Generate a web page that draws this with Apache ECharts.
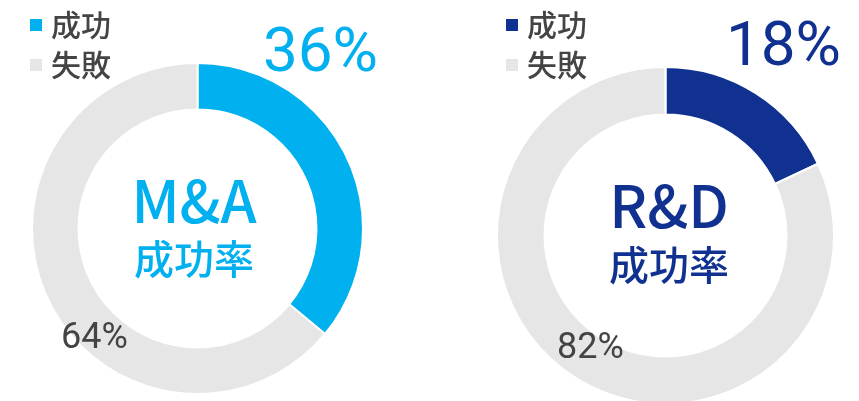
<!DOCTYPE html>
<html>
<head>
<meta charset="utf-8">
<script src="https://cdn.jsdelivr.net/npm/echarts@6/dist/echarts.min.js"></script>
<style>
  html, body { margin: 0; padding: 0; background: #fff; }
</style>
</head>
<body>
<div id="main" style="width:859px;height:401px"></div>
<script>
// 凡例の項目
const categories = ['成功', '失敗']
// M&A 成功率 / 失敗率 (%)
const maValues = [36, 64]
// R&D 成功率 / 失敗率 (%)
const rdValues = [18, 82]
const titles = ['M&A', 'R&D']

const maColors = ['#00b0ef', '#e6e6e6']
const rdColors = ['#10318f', '#e6e6e6']
const textGrey = '#444444'
const cjk = '"Noto Sans CJK JP", "Noto Sans", sans-serif'
const num = 'Roboto, "Noto Sans", sans-serif'

function pieData (values, colors) {
  return categories.map((name, i) => ({
    name: name,
    value: values[i],
    itemStyle: { color: colors[i] }
  }))
}

function legendOf (left, colors) {
  return {
    orient: 'vertical',
    left: left,
    top: 4,
    icon: 'rect',
    itemWidth: 14,
    itemHeight: 14,
    itemGap: 8,
    selectedMode: false,
    textStyle: {
      color: textGrey,
      fontSize: 30,
      fontWeight: 500,
      fontFamily: cjk,
      lineHeight: 32,
      padding: [0, 0, 0, 3]
    },
    data: categories.map((name, i) => ({ name: name, itemStyle: { color: colors[i] } }))
  }
}

const myChart = echarts.init(document.getElementById('main'))
const option = {
  animation: false,
  legend: [legendOf(23, maColors), legendOf(499, rdColors)],
  series: [
    {
      type: 'pie',
      center: [197.5, 228.5],
      radius: [119, 165.5],
      startAngle: 90,
      silent: true,
      label: { show: false },
      itemStyle: { borderColor: '#fff', borderWidth: 2 },
      data: pieData(maValues, maColors)
    },
    {
      type: 'pie',
      center: [665.5, 235.5],
      radius: [121, 168.5],
      startAngle: 90,
      silent: true,
      label: { show: false },
      itemStyle: { borderColor: '#fff', borderWidth: 2 },
      data: pieData(rdValues, rdColors)
    }
  ],
  graphic: [
    // 成功の割合 (大きい数字)
    { type: 'text', z: 100, right: 859 - 378, top: 24, style: { text: maValues[0] + '%', fill: maColors[0], font: '400 62px ' + num } },
    { type: 'text', z: 100, right: 859 - 841, top: 18, style: { text: rdValues[0] + '%', fill: rdColors[0], font: '400 62px ' + num } },
    // 失敗の割合
    { type: 'text', z: 100, left: 61, top: 321, style: { text: maValues[1] + '%', fill: textGrey, font: '400 36px ' + num } },
    { type: 'text', z: 100, left: 557, top: 331, style: { text: rdValues[1] + '%', fill: textGrey, font: '400 36px ' + num } },
    // 中央のタイトル
    { type: 'text', z: 100, x: 194, y: 201, style: { text: titles[0], fill: maColors[0], font: '500 58px ' + cjk, align: 'center', verticalAlign: 'middle' } },
    { type: 'text', z: 100, x: 194, y: 259, style: { text: '成功率', fill: maColors[0], font: '500 40px ' + cjk, align: 'center', verticalAlign: 'middle' } },
    { type: 'text', z: 100, x: 669, y: 206, style: { text: titles[1], fill: rdColors[0], font: '500 58px ' + cjk, align: 'center', verticalAlign: 'middle' } },
    { type: 'text', z: 100, x: 669, y: 265, style: { text: '成功率', fill: rdColors[0], font: '500 40px ' + cjk, align: 'center', verticalAlign: 'middle' } }
  ]
}
myChart.setOption(option)
</script>
</body>
</html>
